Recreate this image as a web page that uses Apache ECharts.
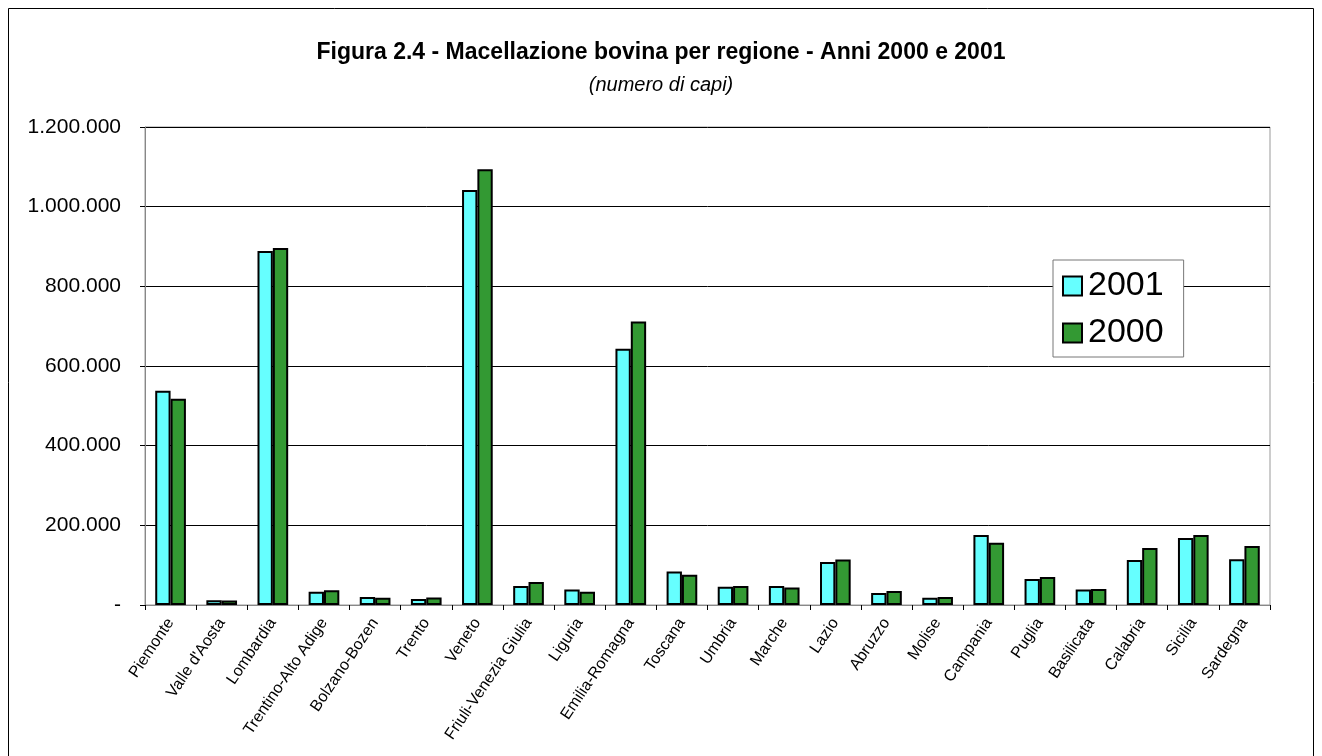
<!DOCTYPE html>
<html>
<head>
<meta charset="utf-8">
<script src="https://cdn.jsdelivr.net/npm/echarts@6/dist/echarts.min.js"></script>
<style>
  html, body { margin: 0; padding: 0; background: #fff; }
  #main { width: 1322px; height: 756px; }
</style>
</head>
<body>
<div id="main"></div>
<script>
var regioni = ['Piemonte', "Valle d'Aosta", 'Lombardia', 'Trentino-Alto Adige', 'Bolzano-Bozen',
    'Trento', 'Veneto', 'Friuli-Venezia Giulia', 'Liguria', 'Emilia-Romagna', 'Toscana', 'Umbria',
    'Marche', 'Lazio', 'Abruzzo', 'Molise', 'Campania', 'Puglia', 'Basilicata', 'Calabria',
    'Sicilia', 'Sardegna'];
var anno2001 = [538000, 12000, 889000, 33000, 20000, 15000, 1042000, 48000, 39000, 643000, 84000,
    46000, 48000, 108000, 30000, 18000, 176000, 65000, 39000, 113000, 168000, 115000];
var anno2000 = [518000, 11000, 896000, 37000, 18000, 19000, 1094000, 58000, 33000, 712000, 76000,
    48000, 44000, 114000, 35000, 20000, 156000, 70000, 40000, 143000, 176000, 148000];
var yTicks = [0, 200000, 400000, 600000, 800000, 1000000, 1200000];

var myChart = echarts.init(document.getElementById('main'));

// separatore migliaia col punto, zero come trattino
function fmt(v) {
    if (v === 0) return '-';
    return String(v).replace(/\B(?=(\d{3})+(?!\d))/g, '.');
}

var option = {
    backgroundColor: '#fff',
    animation: false,
    textStyle: { fontFamily: 'Liberation Sans, Arial, sans-serif' },
    title: {
        text: 'Figura 2.4 - Macellazione bovina per regione - Anni 2000 e 2001',
        subtext: '(numero di capi)',
        left: 'center',
        top: 36,
        itemGap: 11,
        textStyle: { fontSize: 23, fontWeight: 'bold', color: '#000', fontFamily: 'Liberation Sans, Arial' },
        subtextStyle: { fontSize: 20, fontStyle: 'italic', color: '#000', fontFamily: 'Liberation Sans, Arial' }
    },
    graphic: [{
        type: 'rect',
        shape: { x: 8.5, y: 8.5, width: 1305, height: 760 },
        style: { fill: 'none', stroke: '#000', lineWidth: 1 },
        silent: true
    }],
    legend: {
        orient: 'vertical',
        left: 1053,
        top: 260,
        width: 130,
        padding: [9, 20, 7, 9],
        itemGap: 13,
        itemWidth: 19,
        itemHeight: 19,
        icon: 'rect',
        borderColor: '#777',
        borderWidth: 1,
        backgroundColor: '#fff',
        textStyle: { fontSize: 34, color: '#000', padding: [0, 0, 0, 1] },
        data: ['2001', '2000']
    },
    grid: {
        left: 145,
        right: 52,
        top: 127,
        bottom: 151,
        show: true,
        borderColor: '#999',
        borderWidth: 1
    },
    xAxis: {
        type: 'category',
        data: regioni,
        axisLine: { lineStyle: { color: '#888', width: 1 } },
        axisTick: { show: true, interval: 0, length: 5, lineStyle: { color: '#000' } },
        axisLabel: { interval: 0, rotate: 56, fontSize: 16, color: '#000', margin: 15 }
    },
    yAxis: {
        type: 'value',
        min: 0,
        max: 1200000,
        interval: 200000,
        axisLine: { show: true, lineStyle: { color: '#888' } },
        axisTick: { show: true, length: 5, lineStyle: { color: '#000' } },
        splitLine: { lineStyle: { color: '#000', width: 1 } },
        axisLabel: {
            fontSize: 21,
            color: '#000',
            margin: 24,
            formatter: function (v) { return yTicks.indexOf(v) >= 0 ? fmt(v) : ''; }
        }
    },
    series: [
        {
            name: '2001',
            type: 'bar',
            data: anno2001,
            barGap: '0%',
            barCategoryGap: '40%',
            itemStyle: { color: '#66FFFF', borderColor: '#000', borderWidth: 2 }
        },
        {
            name: '2000',
            type: 'bar',
            data: anno2000,
            barGap: '0%',
            barCategoryGap: '40%',
            itemStyle: { color: '#339933', borderColor: '#000', borderWidth: 2 }
        }
    ]
};
myChart.setOption(option);
window.addEventListener('resize', function () {
    myChart.resize();
});
</script>
</body>
</html>
